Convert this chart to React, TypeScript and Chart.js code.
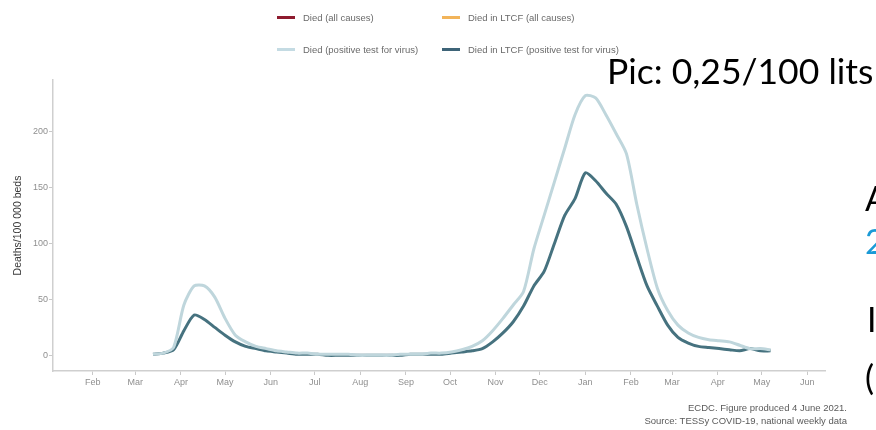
import React, { useEffect, useRef } from "react";
import { Chart, registerables } from "chart.js";

Chart.register(...registerables);

// ---- data ----
const monthLabels = ["Feb", "Mar", "Apr", "May", "Jun", "Jul", "Aug", "Sep", "Oct", "Nov", "Dec", "Jan", "Feb", "Mar", "Apr", "May", "Jun"];
// days after 1 Feb 2020 at which each month starts
const monthStartDays = [0, 29, 60, 90, 121, 151, 182, 213, 243, 274, 304, 335, 366, 394, 425, 455, 486];
const firstReportDay = 41;
const reportIntervalDays = 7;
const yTickValues = [0, 50, 100, 150, 200];

const diedAllCauses: number[] = [];
const diedLtcfAllCauses: number[] = [];
const diedPositive = [
  1, 2, 7, 45, 62, 62, 52, 33, 18, 12, 8, 6, 4, 3, 2,
  2, 1, 1, 1, 1, 0, 0, 0, 0, 1, 1, 1, 2,
  2, 3, 5, 8, 13, 22, 33, 45, 57, 95, 125, 155, 185, 215, 232, 230, 215, 198, 180, 135, 95, 60, 40, 27, 20, 16, 14, 13, 12, 9, 6, 6, 5,
];
const diedLtcfPositive = [
  1, 2, 5, 22, 36, 32, 25, 18, 12, 8, 6, 4, 3, 2, 1,
  1, 1, 0, 0, 0, 0, 0, 0, 0, 0, 1, 1, 1,
  1, 2, 3, 4, 6, 12, 20, 30, 44, 62, 75, 100, 125, 140, 163, 156, 145, 135, 115, 88, 62, 44, 27, 16, 11, 8, 7, 6, 5, 4, 6, 4, 4,
];

const legendItems = [
  { label: "Died (all causes)", color: "#8e1b2e" },
  { label: "Died in LTCF (all causes)", color: "#f2b45a" },
  { label: "Died (positive test for virus)", color: "#c4dbe3" },
  { label: "Died in LTCF (positive test for virus)", color: "#3e6478" },
];

const yAxisTitle = "Deaths/100 000 beds";
const footerLines = ["ECDC. Figure produced 4 June 2021.", "Source: TESSy COVID-19, national weekly data"];
const calloutText = "Pic: 0,25/100 lits";

const toPoints = (values: number[]) =>
  values.map((v, i) => ({ x: firstReportDay + i * reportIntervalDays, y: v }));

function ChartCanvas() {
  const ref = useRef<HTMLCanvasElement | null>(null);
  useEffect(() => {
    if (!ref.current) return;
    const chart = new Chart(ref.current, {
      type: "line",
      data: {
        datasets: [
          { label: legendItems[0].label, data: toPoints(diedAllCauses), borderColor: legendItems[0].color, borderWidth: 2.5, pointRadius: 0 },
          { label: legendItems[1].label, data: toPoints(diedLtcfAllCauses), borderColor: legendItems[1].color, borderWidth: 2.5, pointRadius: 0 },
          { label: legendItems[2].label, data: toPoints(diedPositive), borderColor: "#bfd6dc", borderWidth: 3, pointRadius: 0, tension: 0.25 },
          { label: legendItems[3].label, data: toPoints(diedLtcfPositive), borderColor: "#46727f", borderWidth: 3, pointRadius: 0, tension: 0.25 },
        ],
      },
      options: {
        animation: false,
        responsive: false,
        maintainAspectRatio: false,
        layout: { padding: { top: 80, right: 51, bottom: 39, left: 0 } },
        plugins: { legend: { display: false }, tooltip: { enabled: false } },
        scales: {
          x: {
            type: "linear",
            min: -27,
            max: 498,
            afterBuildTicks: (scale: any) => {
              scale.ticks = monthStartDays.map((v) => ({ value: v }));
            },
            afterFit: (scale: any) => {
              scale.height = 20;
            },
            ticks: {
              autoSkip: false,
              maxRotation: 0,
              padding: 2,
              color: "#8f8f8f",
              font: { family: "Liberation Sans, Arial", size: 9 },
              callback: (value: any) => {
                const idx = monthStartDays.indexOf(Number(value));
                return idx >= 0 ? monthLabels[idx] : "";
              },
            },
            grid: { display: true, drawOnChartArea: false, drawTicks: true, tickLength: 4, color: "#c9c9c9" },
            border: { display: true, color: "#cfcfcf", width: 1.5 },
          },
          y: {
            type: "linear",
            min: -14,
            max: 246,
            afterBuildTicks: (scale: any) => {
              scale.ticks = yTickValues.map((v) => ({ value: v }));
            },
            afterFit: (scale: any) => {
              scale.width = 53;
            },
            ticks: {
              padding: 1,
              color: "#8f8f8f",
              font: { family: "Liberation Sans, Arial", size: 9 },
            },
            title: {
              display: true,
              text: yAxisTitle,
              color: "#3a3a3a",
              font: { family: "Liberation Sans, Arial", size: 10.5 },
              padding: { top: 12, bottom: 0 },
            },
            grid: { display: true, drawOnChartArea: false, drawTicks: true, tickLength: 4, color: "#c9c9c9" },
            border: { display: true, color: "#cfcfcf", width: 1.5 },
          },
        },
      },
    });
    return () => chart.destroy();
  }, []);
  return (
    <canvas
      ref={ref}
      width={876}
      height={430}
      style={{ position: "absolute", left: 0, top: 0, width: 876, height: 430, filter: "blur(0.35px)" }}
    />
  );
}

export default function App() {
  const legendCols = [277, 442];
  const legendRows = [17, 49];
  const sideFont = { fontFamily: "Lato, sans-serif", fontSize: 34, lineHeight: "34px" };
  return (
    <div
      style={{
        position: "absolute",
        left: 0,
        top: 0,
        width: 876,
        height: 430,
        overflow: "hidden",
        background: "#ffffff",
      }}
    >
      <ChartCanvas />
      {legendItems.map((item, i) => {
        const col = legendCols[i % 2];
        const row = legendRows[Math.floor(i / 2)];
        return (
          <div
            key={item.label}
            style={{
              position: "absolute",
              left: col,
              top: row - 7,
              height: 14,
              display: "flex",
              alignItems: "center",
              whiteSpace: "nowrap",
              filter: "blur(0.35px)",
            }}
          >
            <span style={{ display: "inline-block", width: 18, height: 3, background: item.color, marginRight: 8 }} />
            <span style={{ fontFamily: "Liberation Sans, Arial", fontSize: 9.5, color: "#6a6a6a" }}>{item.label}</span>
          </div>
        );
      })}
      <div
        style={{
          position: "absolute",
          right: 876 - 847,
          top: 401,
          textAlign: "right",
          fontFamily: "Liberation Sans, Arial",
          fontSize: 9.5,
          lineHeight: "13px",
          color: "#5a5a5a",
          whiteSpace: "nowrap",
          filter: "blur(0.35px)",
        }}
      >
        {footerLines.map((t) => (
          <div key={t}>{t}</div>
        ))}
      </div>
      <div
        style={{
          position: "absolute",
          left: 607,
          top: 53,
          fontFamily: "Lato, 'Open Sans', sans-serif",
          fontSize: 35.5,
          lineHeight: "36px",
          color: "#000",
          whiteSpace: "nowrap",
        }}
      >
        {calloutText}
      </div>
      <div style={{ position: "absolute", left: 865, top: 181, color: "#000", ...sideFont }}>A</div>
      <div style={{ position: "absolute", left: 865, top: 224, color: "#1b9ad6", ...sideFont }}>2</div>
      <div style={{ position: "absolute", left: 867, top: 302, color: "#000", ...sideFont }}>I</div>
      <div style={{ position: "absolute", left: 865, top: 360, color: "#000", ...sideFont }}>(</div>
    </div>
  );
}
